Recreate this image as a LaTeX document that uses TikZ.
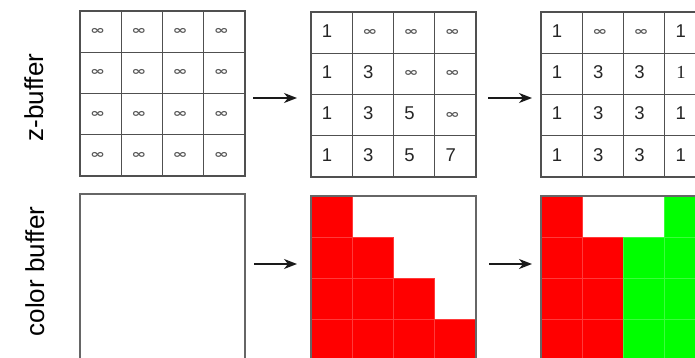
\documentclass[tikz,border=0pt]{standalone}
\usepackage{graphicx}
\usepackage{fontspec}
\setmainfont{Liberation Sans}
\newfontfamily\serifone{Liberation Serif}
\newfontfamily\inffont{DejaVu Sans}
\usetikzlibrary{arrows.meta}
\definecolor{gridgray}{HTML}{505050}
\definecolor{boxgray}{HTML}{666666}
\definecolor{arrowgray}{HTML}{1A1A1A}
\definecolor{cred}{HTML}{FF0000}
\definecolor{cgreen}{HTML}{00FF00}
\definecolor{redline}{HTML}{FF3A3A}
\definecolor{greenline}{HTML}{3AFF3A}
\newcommand{\infsym}{\scalebox{1.2}[0.8]{\inffont\bfseries\fontsize{15}{15}\selectfont ∞}}
\begin{document}
\begin{tikzpicture}[x=1pt,y=-1pt,
  cell/.style={draw=gridgray, line width=1.1pt, minimum size=41.25pt, inner sep=0pt, outer sep=0pt},
  frame/.style={draw=gridgray, line width=1.1pt, minimum size=165pt, inner sep=0pt, outer sep=0pt},
  dig/.style={font=\fontsize{18.5}{18.5}\selectfont, inner sep=0pt, text=black!85},
  inf/.style={inner sep=0pt, text=black!65},
  lab/.style={font=\fontsize{26}{26}\selectfont, rotate=90, anchor=base, inner sep=0pt},
  cbox/.style={draw=boxgray, line width=1.5pt, minimum size=165pt, inner sep=0pt, outer sep=0pt},
  redcell/.style={fill=cred, draw=redline, line width=0.6pt},
  greencell/.style={fill=cgreen, draw=greenline, line width=0.6pt},
  arr/.style={draw=arrowgray, line width=1.5pt, -{Stealth[length=13pt,width=10pt,inset=4pt]}},
]
\useasboundingbox (0,0) rectangle (695,358);
\clip (0,0) rectangle (695,358);
\fill[white] (0,0) rectangle (695,358);

% labels
\node[lab] (zl) at (43,97.5) {z-buffer};
\node[lab] (cl) at (44,271.5) {color buffer};

% z-buffer grids
\foreach \g/\x/\y in {1/80/11, 2/311/12, 3/541/12}
  \foreach \r in {1,...,4}
    \foreach \c in {1,...,4}
      \node[cell] (z\g-\r-\c) at ({\x+41.25*(\c-0.5)},{\y+41.25*(\r-0.5)}) {};
\node[frame] (z1) at (162.5,93.5) {};
\node[frame] (z2) at (393.5,94.5) {};
\node[frame] (z3) at (623.5,94.5) {};

% grid 1 texts
\foreach \r in {1,...,4}
  \foreach \c in {1,...,4}
    \node[inf] (t1-\r-\c) at ([xshift=-3pt]z1-\r-\c.center) {\infsym};

% grid 2 texts
\foreach \r in {1,...,4}
  \foreach \c in {1,...,4}{
    \ifnum\c>\r
      \node[inf] (t2-\r-\c) at ([xshift=-3pt]z2-\r-\c.center) {\infsym};
    \else
      \node[dig] (t2-\r-\c) at ([xshift=-4.5pt,yshift=1.5pt]z2-\r-\c.center) {\the\numexpr2*\c-1\relax};
    \fi
  }

% grid 3 texts
\foreach \c in {1,4}
  \node[dig] (t3-1-\c) at ([xshift=-4.5pt,yshift=1.5pt]z3-1-\c.center) {1};
\foreach \c in {2,3}
  \node[inf] (t3-1-\c) at ([xshift=-3pt]z3-1-\c.center) {\infsym};
\foreach \r in {2,3,4}
  \foreach \c/\v in {1/1,2/3,3/3}
    \node[dig] (t3-\r-\c) at ([xshift=-4.5pt,yshift=1.5pt]z3-\r-\c.center) {\v};
\foreach \r in {3,4}
  \node[dig] (t3-\r-4) at ([xshift=-4.5pt,yshift=1.5pt]z3-\r-4.center) {1};
\node[dig, font=\serifone\fontsize{18.5}{18.5}\selectfont] (t3-2-4) at ([xshift=-4.5pt,yshift=1.5pt]z3-2-4.center) {1};

% colour buffer 2 cells
\foreach \r in {1,...,4}
  \foreach \c in {1,...,4}{
    \ifnum\c>\r\else
      \path[redcell] ({311+41.25*(\c-1)},{196+41.25*(\r-1)}) rectangle ++(41.25,41.25);
    \fi
  }
% colour buffer 3 cells
\foreach \r in {1,...,4}
  \path[redcell] (541,{196+41.25*(\r-1)}) rectangle ++(41.25,41.25);
\foreach \r in {2,3,4}{
  \path[redcell] (582.25,{196+41.25*(\r-1)}) rectangle ++(41.25,41.25);
  \path[greencell] (623.5,{196+41.25*(\r-1)}) rectangle ++(41.25,41.25);
}
\foreach \r in {1,...,4}
  \path[greencell] (664.75,{196+41.25*(\r-1)}) rectangle ++(41.25,41.25);

% colour buffer frames
\node[cbox] (c1) at (162.5,276.5) {};
\node[cbox] (c2) at (393.5,278.5) {};
\node[cbox] (c3) at (623.5,278.5) {};

% arrows
\draw[arr] ([xshift=8pt,yshift=-4.5pt]z1.east) -- ([xshift=-14pt,yshift=-3.5pt]z2.west);
\draw[arr] ([xshift=12pt,yshift=-3.5pt]z2.east) -- ([xshift=-9pt,yshift=-3.5pt]z3.west);
\draw[arr] ([xshift=9pt,yshift=12.5pt]c1.east) -- ([xshift=-14pt,yshift=14.5pt]c2.west);
\draw[arr] ([xshift=13pt,yshift=14.5pt]c2.east) -- ([xshift=-9pt,yshift=14.5pt]c3.west);
\end{tikzpicture}
\end{document}
